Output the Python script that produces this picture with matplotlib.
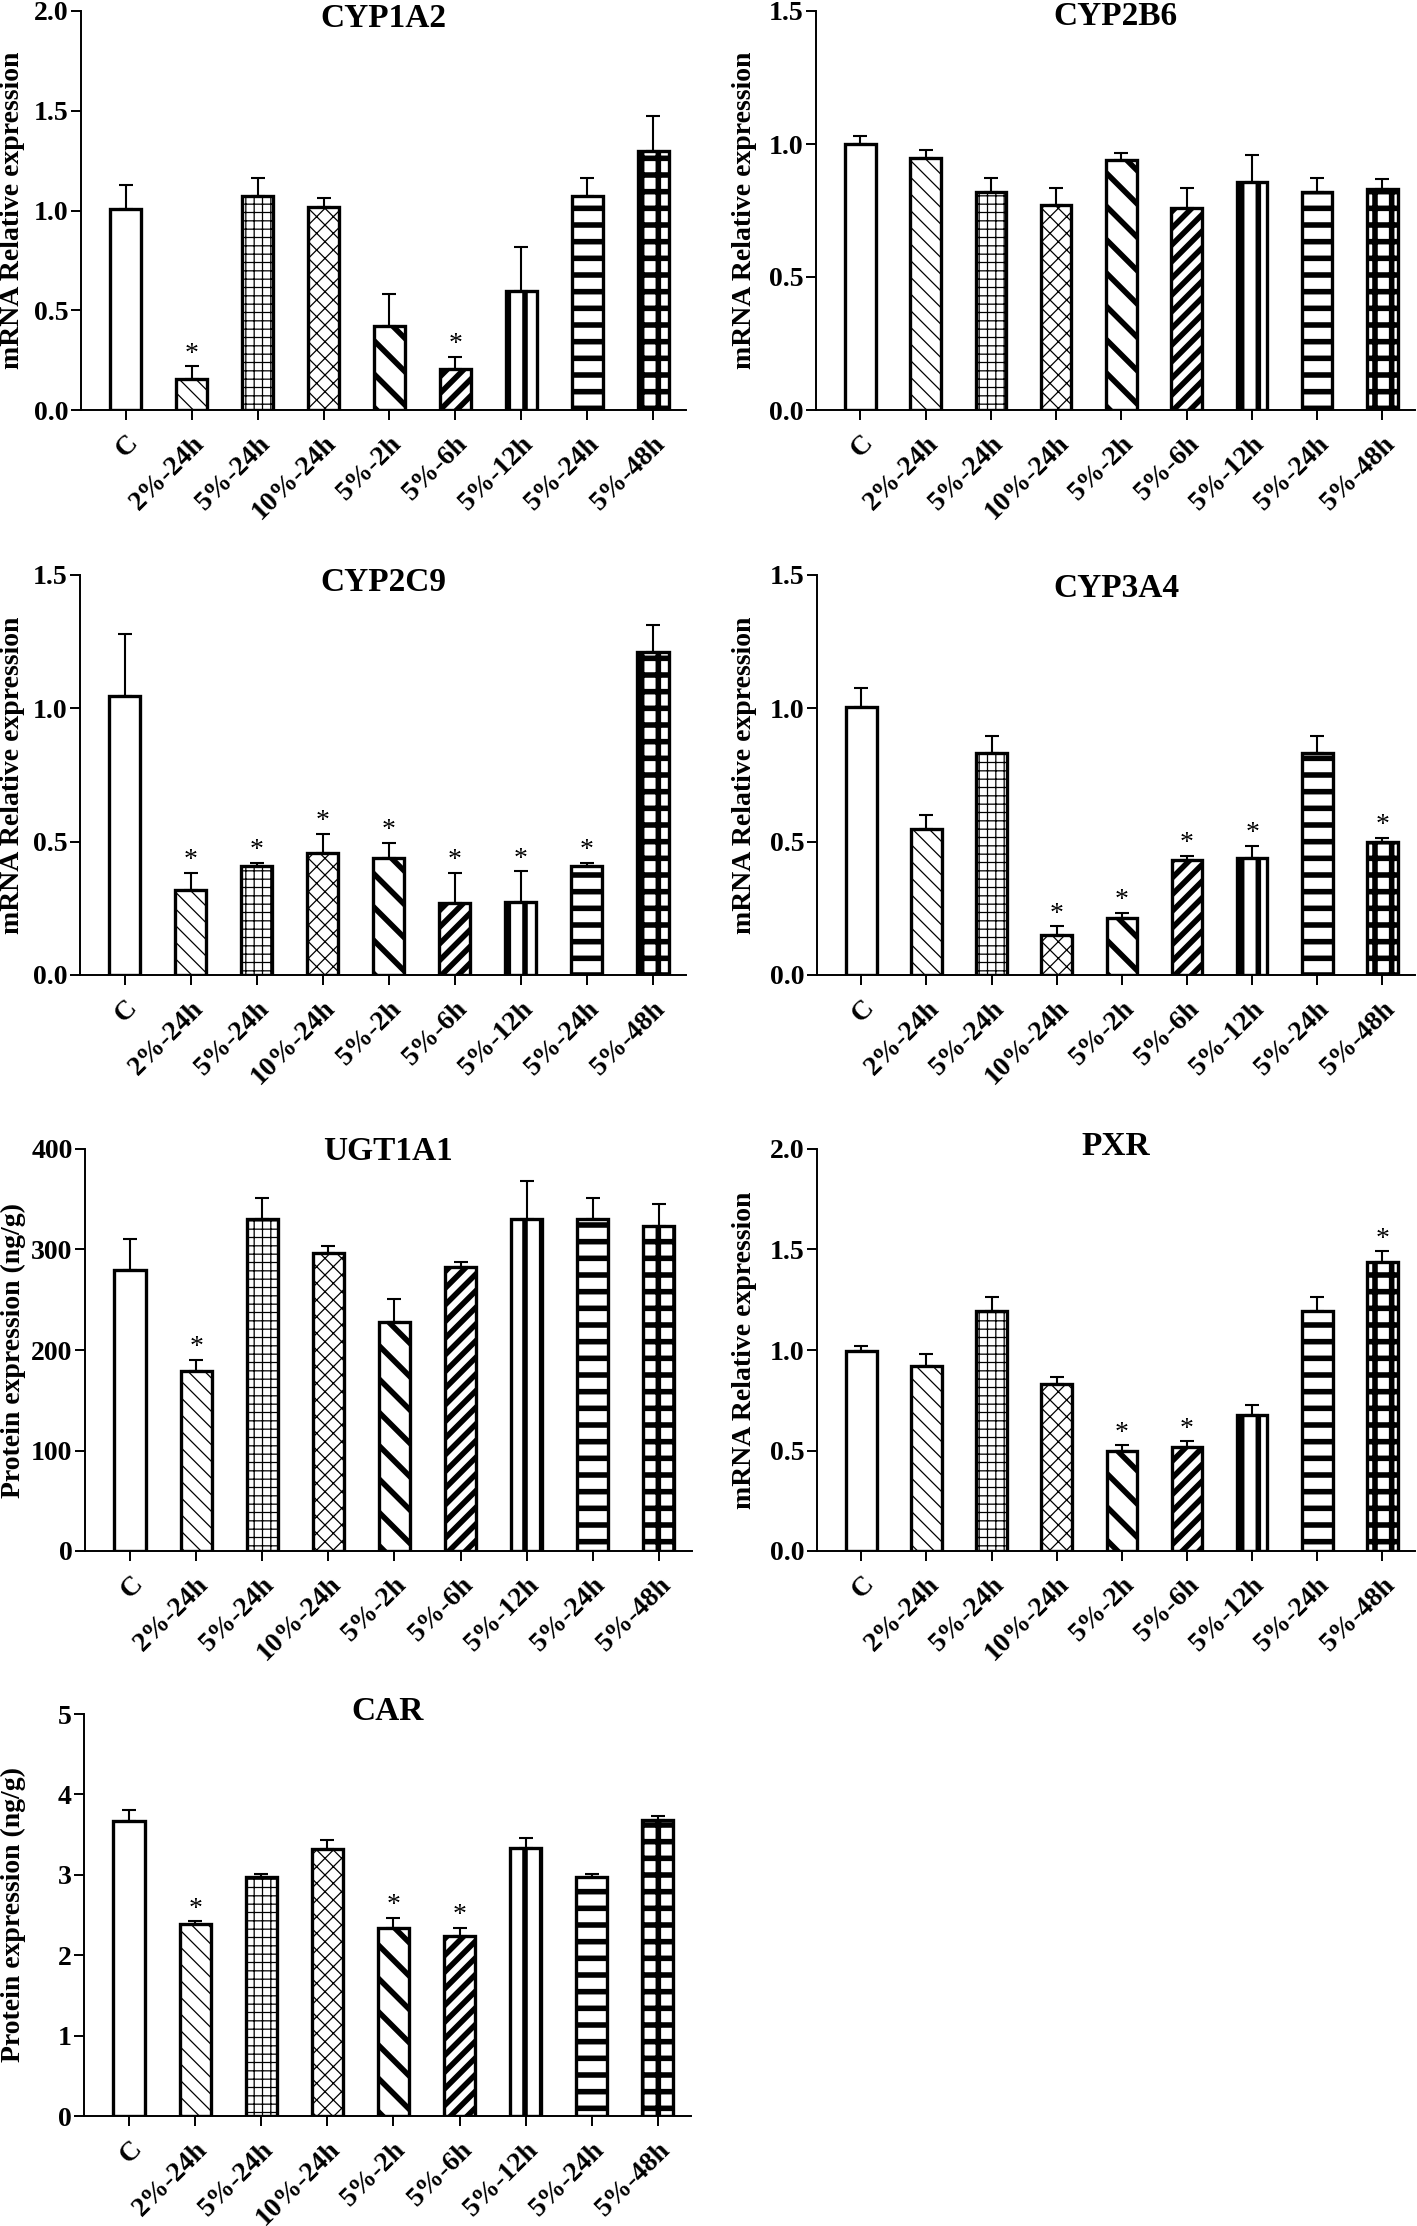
import matplotlib
matplotlib.use('Agg')
import matplotlib.pyplot as plt
import numpy as np
from matplotlib.ticker import FormatStrFormatter, MultipleLocator

plt.rcParams['font.family'] = ['Liberation Serif', 'DejaVu Serif']
plt.rcParams['font.weight'] = 'bold'

groups = ['C', '2%-24h', '5%-24h', '10%-24h', '5%-2h', '5%-6h', '5%-12h', '5%-24h', '5%-48h']

# values (mean, upper error)
cyp1a2_mean = [1.01, 0.155, 1.075, 1.02, 0.42, 0.205, 0.595, 1.075, 1.30]
cyp1a2_err = [0.12, 0.065, 0.088, 0.041, 0.161, 0.062, 0.221, 0.088, 0.174]
cyp1a2_star = [0, 1, 0, 0, 0, 1, 0, 0, 0]

cyp2b6_mean = [1.00, 0.948, 0.82, 0.772, 0.941, 0.759, 0.856, 0.82, 0.832]
cyp2b6_err = [0.029, 0.029, 0.052, 0.064, 0.024, 0.077, 0.103, 0.052, 0.036]
cyp2b6_star = [0, 0, 0, 0, 0, 0, 0, 0, 0]

cyp2c9_mean = [1.046, 0.318, 0.409, 0.456, 0.44, 0.269, 0.272, 0.409, 1.21]
cyp2c9_err = [0.233, 0.065, 0.011, 0.074, 0.056, 0.114, 0.117, 0.011, 0.101]
cyp2c9_star = [0, 1, 1, 1, 1, 1, 1, 1, 0]

cyp3a4_mean = [1.005, 0.549, 0.834, 0.149, 0.214, 0.43, 0.438, 0.834, 0.498]
cyp3a4_err = [0.072, 0.052, 0.063, 0.033, 0.02, 0.017, 0.046, 0.063, 0.016]
cyp3a4_star = [0, 0, 0, 1, 1, 1, 1, 0, 1]

ugt1a1_mean = [280, 179, 330, 297, 228, 283, 330, 330, 323]
ugt1a1_err = [30, 11, 21, 6.5, 23, 4.6, 38, 21, 22]
ugt1a1_star = [0, 1, 0, 0, 0, 0, 0, 0, 0]

pxr_mean = [0.996, 0.921, 1.193, 0.833, 0.499, 0.518, 0.679, 1.193, 1.439]
pxr_err = [0.023, 0.057, 0.07, 0.031, 0.026, 0.027, 0.046, 0.07, 0.052]
pxr_star = [0, 0, 0, 0, 1, 1, 0, 0, 1]

car_mean = [3.673, 2.382, 2.974, 3.317, 2.333, 2.244, 3.339, 2.974, 3.678]
car_err = [0.138, 0.04, 0.036, 0.111, 0.134, 0.094, 0.12, 0.036, 0.049]
car_star = [0, 1, 0, 0, 1, 1, 0, 0, 0]

mrna = 'mRNA Relative expression'
prot = 'Protein expression (ng/g)'

panels = [
    ('CYP1A2', cyp1a2_mean, cyp1a2_err, cyp1a2_star, mrna, 2.0, 0.5, '%.1f'),
    ('CYP2B6', cyp2b6_mean, cyp2b6_err, cyp2b6_star, mrna, 1.5, 0.5, '%.1f'),
    ('CYP2C9', cyp2c9_mean, cyp2c9_err, cyp2c9_star, mrna, 1.5, 0.5, '%.1f'),
    ('CYP3A4', cyp3a4_mean, cyp3a4_err, cyp3a4_star, mrna, 1.5, 0.5, '%.1f'),
    ('UGT1A1', ugt1a1_mean, ugt1a1_err, ugt1a1_star, prot, 400, 100, '%d'),
    ('PXR', pxr_mean, pxr_err, pxr_star, mrna, 2.0, 0.5, '%.1f'),
    ('CAR', car_mean, car_err, car_star, prot, 5, 1, '%d'),
]

# pixel boxes: left, top, right, zero-line
W, H = 1417, 2226
boxes = [
    (81, 11, 686, 410), (816, 11, 1415, 410),
    (80, 575, 686, 975), (817, 575, 1415, 975),
    (85, 1149, 692, 1551), (817, 1149, 1415, 1551),
    (84, 1714, 691, 2116),
]
title_y = [0.98, 0.985, 0.982, 0.967, 0.995, 1.005, 1.005]
ylabel_right = [25, 757, 25, 757, 26, 757, 26]   # pixel x of label's right edge

hatches = ['', '\\\\', '++', 'xx', '\\', '//', '|', '-', '+']
hatch_lw = [0.8, 0.9, 0.9, 0.9, 4.0, 4.0, 4.0, 4.0, 4.0]

fig = plt.figure(figsize=(W / 100, H / 100), dpi=100)

x = np.arange(len(groups))
for k, (name, mean, err, star, ylab, ymax, step, fmt) in enumerate(panels):
    l, t, r, z = boxes[k]
    ax = fig.add_axes([l / W, (H - z) / H, (r - l) / W, (z - t) / H])

    bars = ax.bar(x, mean, width=0.47, color='white', edgecolor='black',
                  linewidth=2.4, zorder=2)
    for b, h, lw in zip(bars, hatches, hatch_lw):
        b.set_hatch(h)
        if hasattr(b, 'set_hatch_linewidth'):
            b.set_hatch_linewidth(lw)

    ax.errorbar(x, mean, yerr=[np.zeros(len(mean)), err], fmt='none',
                ecolor='black', elinewidth=1.5, capsize=5, capthick=1.5, zorder=3)

    for i in range(len(mean)):
        if star[i]:
            ax.annotate('*', (x[i], mean[i] + err[i]), xytext=(0, 4),
                        textcoords='offset points', ha='center', va='baseline',
                        fontsize=20, fontweight='normal')

    ax.set_xlim(-0.68, 8.5)
    ax.set_ylim(0, ymax)
    ax.yaxis.set_major_locator(MultipleLocator(step))
    ax.yaxis.set_major_formatter(FormatStrFormatter(fmt))
    ax.set_xticks(x)
    ax.set_xticklabels(groups, rotation=45, ha='right', va='top',
                       rotation_mode='anchor')

    for s in ['top', 'right']:
        ax.spines[s].set_visible(False)
    for s in ['left', 'bottom']:
        ax.spines[s].set_linewidth(1.4)
    ax.tick_params(width=1.4, length=7, labelsize=20, direction='out')
    ax.tick_params(axis='x', pad=8)
    ax.tick_params(axis='y', pad=2)

    ax.set_ylabel(ylab, fontsize=20, fontweight='bold')
    ax.yaxis.set_label_coords((ylabel_right[k] - l) / (r - l), 0.5)

    ax.text(0.5, title_y[k], name, transform=ax.transAxes, ha='center',
            va='center', fontsize=24, fontweight='bold')

fig.savefig('out.png', dpi=100)
